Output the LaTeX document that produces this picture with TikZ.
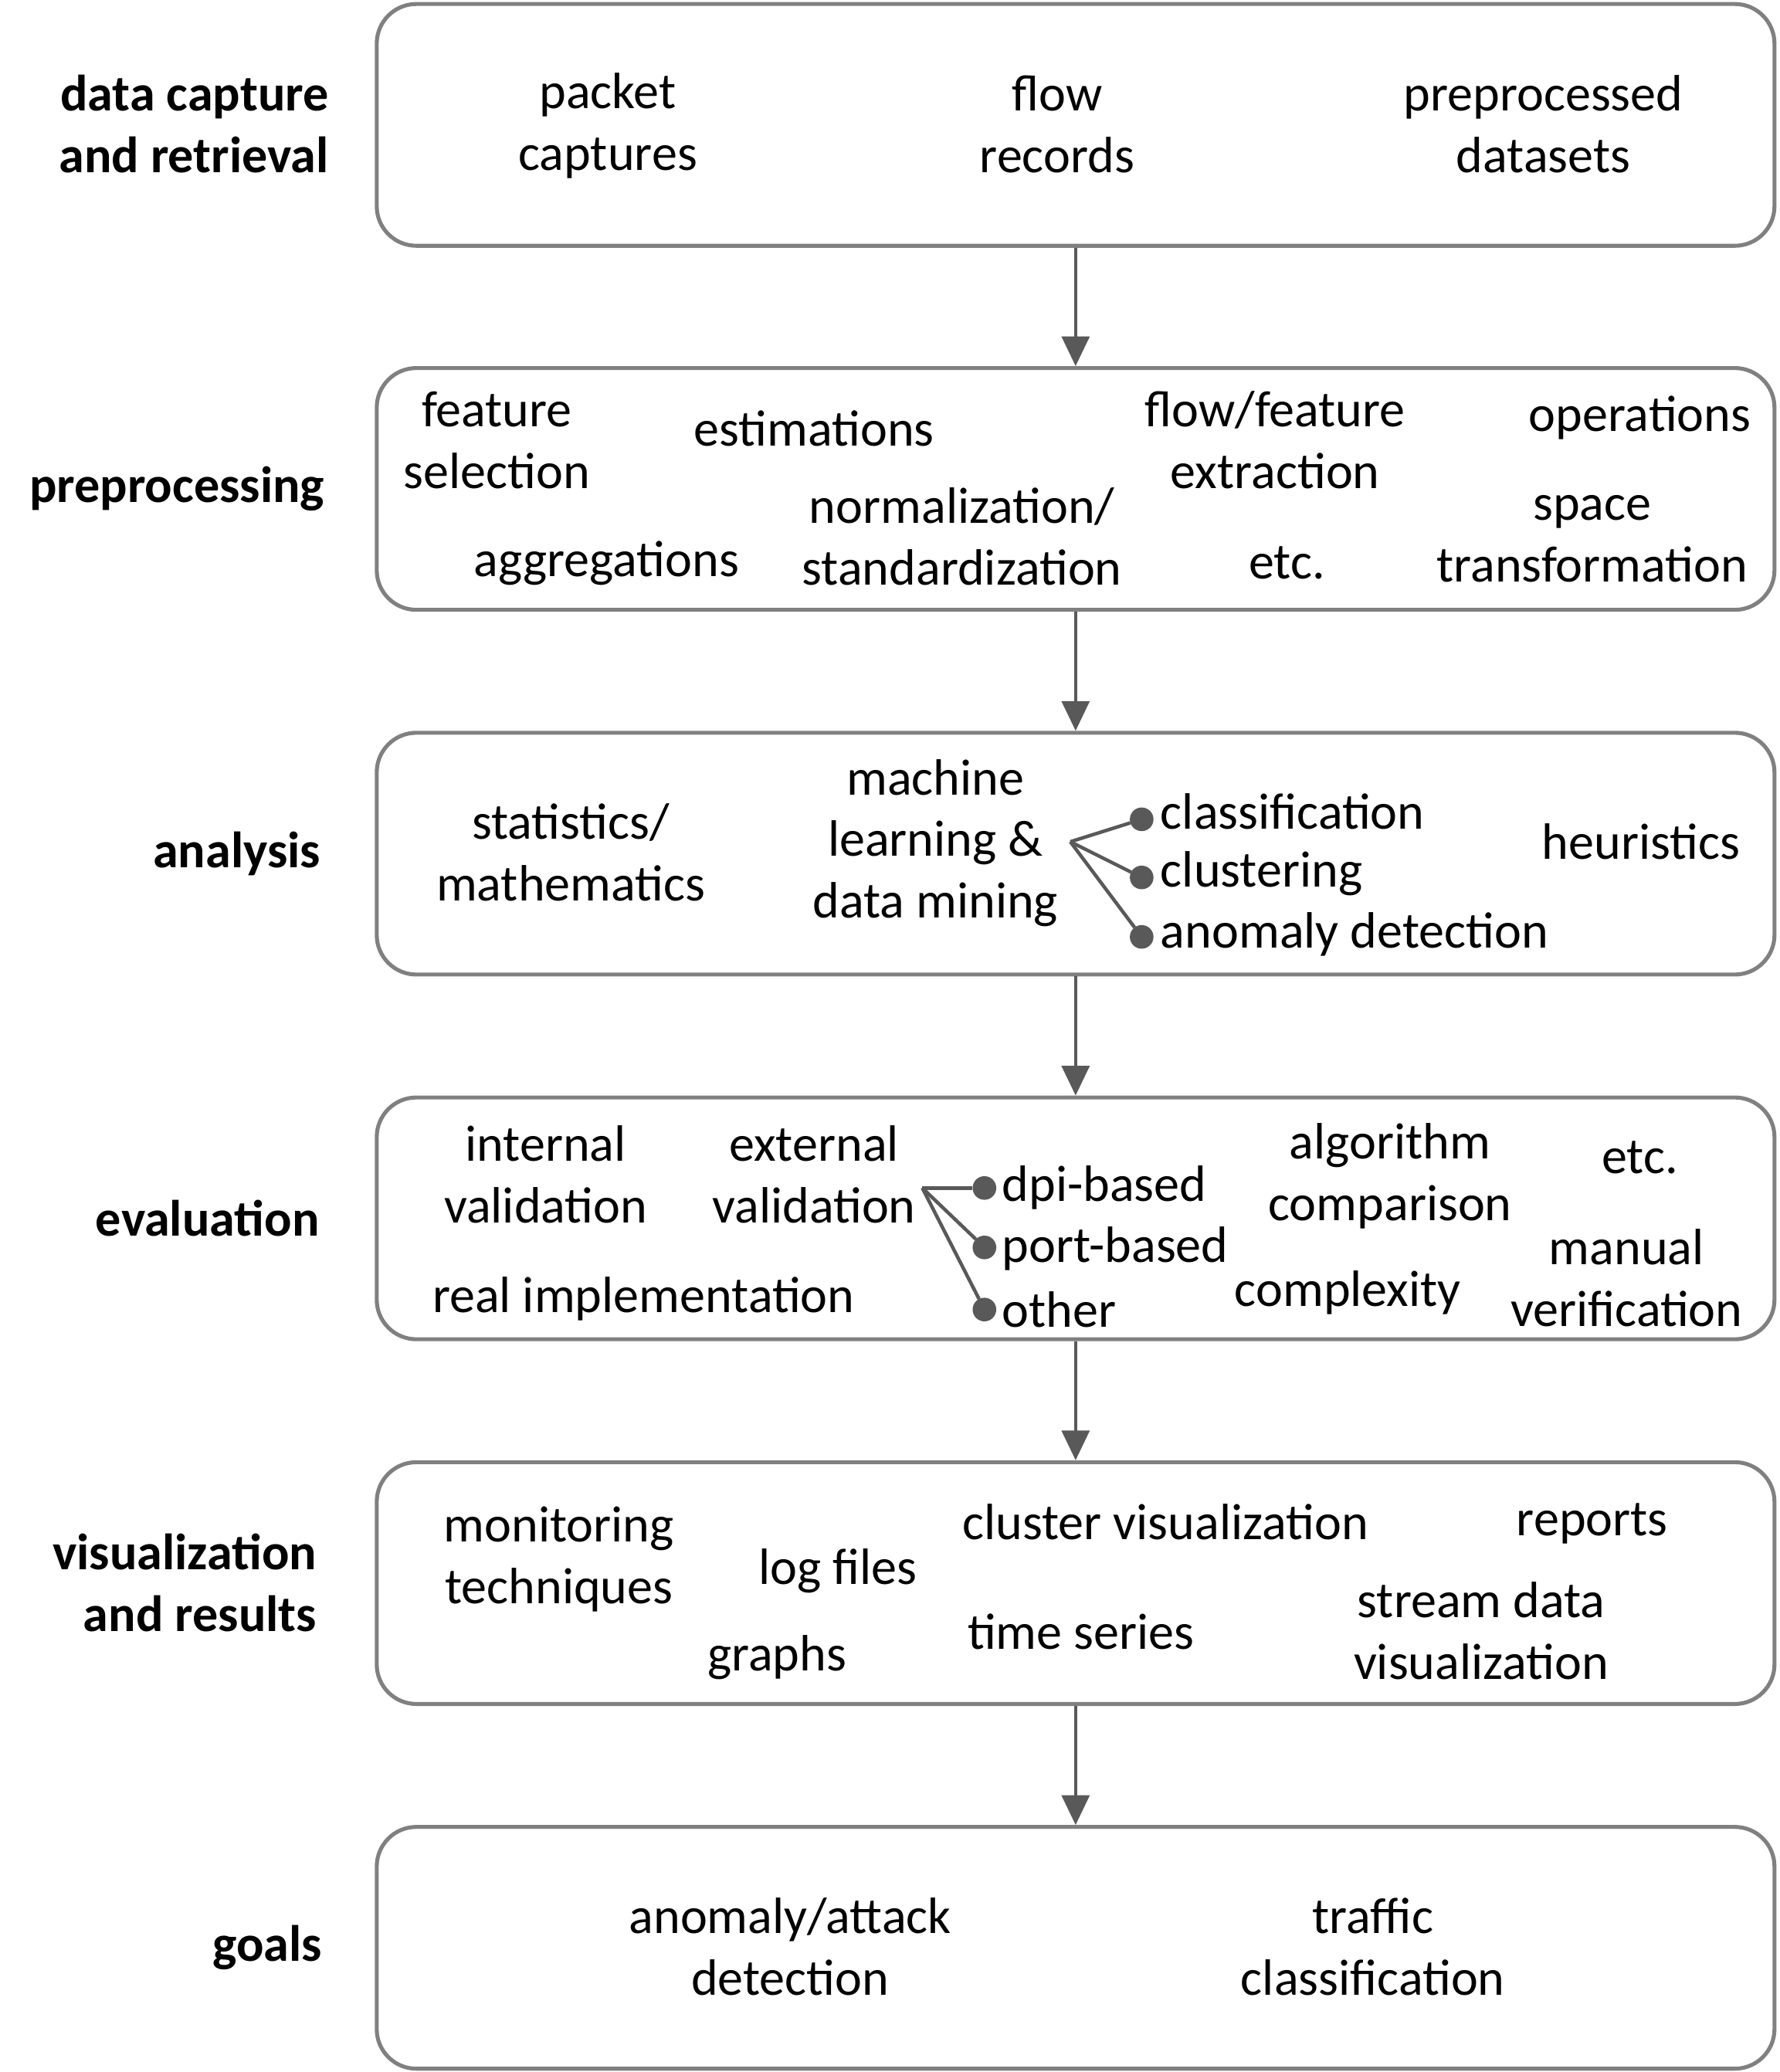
\documentclass[tikz,border=0pt]{standalone}
\usepackage{fontspec}
\setmainfont{Carlito}
\usetikzlibrary{arrows.meta}
\usetikzlibrary{positioning}
\definecolor{boxgray}{RGB}{128,128,128}
\definecolor{arrgray}{RGB}{89,89,89}

\begin{document}
\begin{tikzpicture}[x=0.02cm,y=-0.02cm,
>={Triangle[width=0.42cm,length=0.45cm]},
stage/.style = {draw=boxgray, line width=1.7pt, rounded corners=0.6cm, minimum width=21.16cm, minimum height=3.66cm, inner sep=0pt},
item/.style = {align=center, inner sep=0pt, font=\fontsize{22}{26.6}\selectfont},
itemL/.style = {item, anchor=west},
lbl/.style = {item, align=right, anchor=east, font=\fontsize{22}{26.6}\selectfont\bfseries},
bullet/.style = {circle, fill=arrgray, draw=arrgray, line width=0.5pt, inner sep=0pt, minimum size=0.34cm},
flow/.style = {->, draw=arrgray, line width=1.3pt},
branch/.style = {draw=arrgray, line width=1.5pt}
]
\useasboundingbox (0,0) rectangle (1347,1568);

% stages
\node (S1) [stage] at (814,94.5) {};
\node (S2) [stage] at (814,370) {};
\node (S3) [stage] at (814,646) {};
\node (S4) [stage] at (814,922) {};
\node (S5) [stage] at (814,1198) {};
\node (S6) [stage] at (814,1474) {};

\draw[flow] (S1) -- (S2);
\draw[flow] (S2) -- (S3);
\draw[flow] (S3) -- (S4);
\draw[flow] (S4) -- (S5);
\draw[flow] (S5) -- (S6);

% labels on the left
\node (L1) [lbl] at (249,94) {data capture\\and retrieval};
\node (L2) [lbl] at (246,370) {preprocessing};
\node (L3) [lbl] at (243,646) {analysis};
\node (L4) [lbl] at (242,922) {evaluation};
\node (L5) [lbl] at (240,1198) {visualization\\and results};
\node (L6) [lbl] at (244,1474) {goals};

% data capture
\node (pcap) [item] at (460,95) {packet\\captures};
\node (frec) [item] at (800,94) {flow\\records};
\node (pdat) [item] at (1168,94) {preprocessed\\datasets};

% preprocessing
\node (fsel) [item] at (376,333) {feature\\selection};
\node (est)  [item] at (616,324) {estimations};
\node (fext) [item] at (965,333) {flow/feature\\extraction};
\node (ops)  [item] at (1241,316) {operations};
\node (aggr) [item] at (459,426) {aggregations};
\node (norm) [item] at (728,406) {normalization/\\standardization};
\node (etc1) [item] at (974,426) {etc.};
\node (spc)  [item] at (1205,408) {space\\transformation};

% analysis
\node (stat) [item] at (432,645) {statistics/\\mathematics};
\node (ml)   [item] at (708,638) {machine\\learning \&\\data mining};
\node (heur) [item] at (1242,637) {heuristics};
\coordinate (mlr) at (810,637);
\node (d1) [bullet] at (864,620) {};
\node (d2) [bullet] at (864,664) {};
\node (d3) [bullet] at (864,709) {};
\draw[branch] (mlr) -- (d1);
\draw[branch] (mlr) -- (d2);
\draw[branch] (mlr) -- (d3);
\node (cls)  [itemL] at (878,614) {classification};
\node (clu)  [itemL] at (878,661) {clustering};
\node (anom) [itemL] at (878,707) {anomaly detection};

% evaluation
\node (intv) [item] at (413,889) {internal\\validation};
\node (extv) [item] at (616,889) {external\\validation};
\node (real) [item] at (487,983) {real implementation};
\node (algc) [item] at (1052,890) {algorithm\\comparison};
\node (etc2) [item] at (1241,876) {etc.};
\node (cplx) [item] at (1020,978) {complexity};
\node (manv) [item] at (1231,967) {manual\\verification};
\coordinate (evr) at (698,899);
\node (e1) [bullet] at (745,899) {};
\node (e2) [bullet] at (745,944) {};
\node (e3) [bullet] at (745,991) {};
\draw[branch] (evr) -- (e1);
\draw[branch] (evr) -- (e2);
\draw[branch] (evr) -- (e3);
\node (dpi)  [itemL] at (758,899) {dpi-based};
\node (port) [itemL] at (758,945) {port-based};
\node (oth)  [itemL] at (758,991) {other};

% visualization
\node (mon)  [item] at (423,1180) {monitoring\\techniques};
\node (logf) [item] at (634,1189) {log files};
\node (grph) [item] at (588,1254) {graphs};
\node (clv)  [item] at (882,1152) {cluster visualization};
\node (tser) [item] at (818,1235) {time series};
\node (rep)  [item] at (1205,1153) {reports};
\node (sdv)  [item] at (1121,1234) {stream data\\visualization};

% goals
\node (atk) [item] at (598,1473) {anomaly/attack\\detection};
\node (tcl) [item] at (1039,1473) {traffic\\classification};
\end{tikzpicture}
\end{document}
